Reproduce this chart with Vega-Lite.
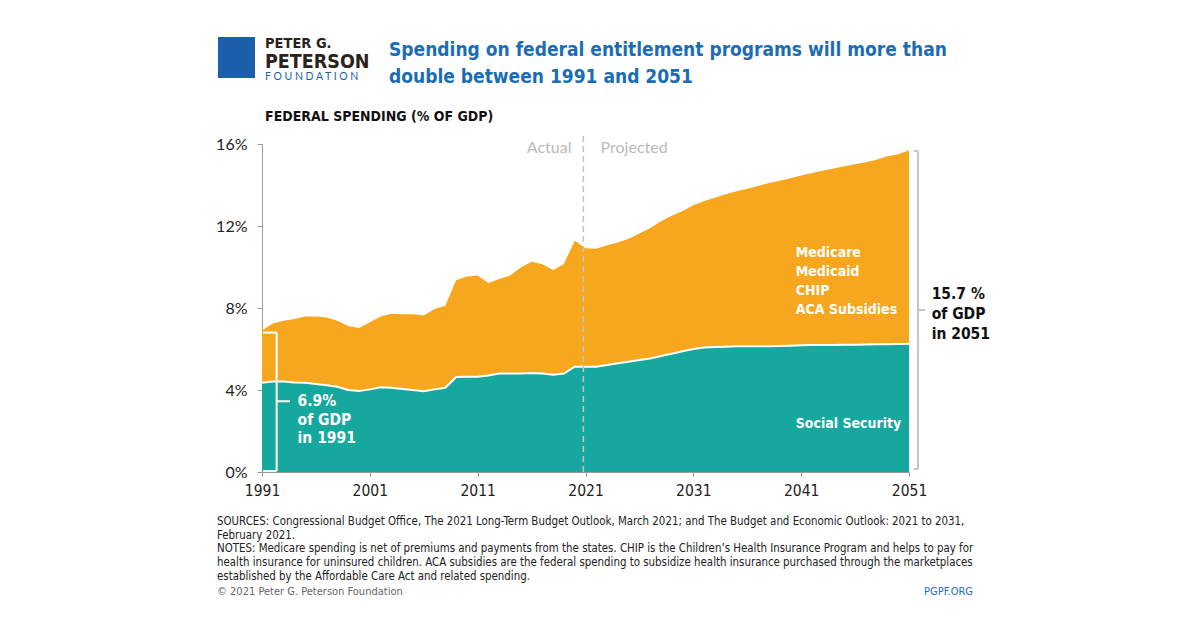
{
  "$schema": "https://vega.github.io/schema/vega-lite/v6.json",
  "width": 647,
  "height": 328,
  "autosize": "none",
  "padding": {"left": 262, "top": 144, "right": 291, "bottom": 157},
  "background": "white",
  "config": {
    "view": {"stroke": null},
    "axis": {"grid": false, "domainColor": "#999999", "tickColor": "#999999", "tickSize": 5, "labelColor": "#222222"},
    "text": {"font": "DejaVu Sans Condensed, Roboto, sans-serif"}
  },
  "datasets": {
    "spending": [
      {"year": 1991, "social_security": 4.35, "health_programs": 2.55},
      {"year": 1992, "social_security": 4.41, "health_programs": 2.84},
      {"year": 1993, "social_security": 4.41, "health_programs": 2.97},
      {"year": 1994, "social_security": 4.36, "health_programs": 3.10},
      {"year": 1995, "social_security": 4.35, "health_programs": 3.23},
      {"year": 1996, "social_security": 4.29, "health_programs": 3.29},
      {"year": 1997, "social_security": 4.23, "health_programs": 3.31},
      {"year": 1998, "social_security": 4.16, "health_programs": 3.22},
      {"year": 1999, "social_security": 4.00, "health_programs": 3.12},
      {"year": 2000, "social_security": 3.95, "health_programs": 3.07},
      {"year": 2001, "social_security": 4.03, "health_programs": 3.27},
      {"year": 2002, "social_security": 4.13, "health_programs": 3.45},
      {"year": 2003, "social_security": 4.11, "health_programs": 3.61},
      {"year": 2004, "social_security": 4.05, "health_programs": 3.65},
      {"year": 2005, "social_security": 4.00, "health_programs": 3.70},
      {"year": 2006, "social_security": 3.94, "health_programs": 3.70},
      {"year": 2007, "social_security": 4.03, "health_programs": 3.92},
      {"year": 2008, "social_security": 4.11, "health_programs": 4.00},
      {"year": 2009, "social_security": 4.63, "health_programs": 4.72},
      {"year": 2010, "social_security": 4.65, "health_programs": 4.89},
      {"year": 2011, "social_security": 4.65, "health_programs": 4.93},
      {"year": 2012, "social_security": 4.71, "health_programs": 4.51},
      {"year": 2013, "social_security": 4.80, "health_programs": 4.61},
      {"year": 2014, "social_security": 4.81, "health_programs": 4.78},
      {"year": 2015, "social_security": 4.80, "health_programs": 5.17},
      {"year": 2016, "social_security": 4.83, "health_programs": 5.43},
      {"year": 2017, "social_security": 4.80, "health_programs": 5.33},
      {"year": 2018, "social_security": 4.75, "health_programs": 5.10},
      {"year": 2019, "social_security": 4.80, "health_programs": 5.35},
      {"year": 2020, "social_security": 5.14, "health_programs": 6.14},
      {"year": 2021, "social_security": 5.14, "health_programs": 5.77},
      {"year": 2022, "social_security": 5.14, "health_programs": 5.75},
      {"year": 2023, "social_security": 5.22, "health_programs": 5.84},
      {"year": 2024, "social_security": 5.30, "health_programs": 5.89},
      {"year": 2025, "social_security": 5.38, "health_programs": 6.00},
      {"year": 2026, "social_security": 5.46, "health_programs": 6.17},
      {"year": 2027, "social_security": 5.54, "health_programs": 6.36},
      {"year": 2028, "social_security": 5.66, "health_programs": 6.57},
      {"year": 2029, "social_security": 5.77, "health_programs": 6.73},
      {"year": 2030, "social_security": 5.89, "health_programs": 6.84},
      {"year": 2031, "social_security": 6.00, "health_programs": 7.01},
      {"year": 2032, "social_security": 6.07, "health_programs": 7.15},
      {"year": 2033, "social_security": 6.10, "health_programs": 7.28},
      {"year": 2034, "social_security": 6.11, "health_programs": 7.44},
      {"year": 2035, "social_security": 6.13, "health_programs": 7.56},
      {"year": 2036, "social_security": 6.13, "health_programs": 7.69},
      {"year": 2037, "social_security": 6.13, "health_programs": 7.82},
      {"year": 2038, "social_security": 6.14, "health_programs": 7.96},
      {"year": 2039, "social_security": 6.15, "health_programs": 8.06},
      {"year": 2040, "social_security": 6.16, "health_programs": 8.17},
      {"year": 2041, "social_security": 6.18, "health_programs": 8.28},
      {"year": 2042, "social_security": 6.19, "health_programs": 8.40},
      {"year": 2043, "social_security": 6.20, "health_programs": 8.50},
      {"year": 2044, "social_security": 6.20, "health_programs": 8.60},
      {"year": 2045, "social_security": 6.21, "health_programs": 8.70},
      {"year": 2046, "social_security": 6.21, "health_programs": 8.80},
      {"year": 2047, "social_security": 6.22, "health_programs": 8.89},
      {"year": 2048, "social_security": 6.23, "health_programs": 9.00},
      {"year": 2049, "social_security": 6.23, "health_programs": 9.17},
      {"year": 2050, "social_security": 6.24, "health_programs": 9.26},
      {"year": 2051, "social_security": 6.25, "health_programs": 9.45}
    ]
  },
  "layer": [
    {
      "data": {"name": "spending"},
      "transform": [{"fold": ["social_security", "health_programs"], "as": ["program", "value"]}],
      "mark": {"type": "area", "opacity": 1},
      "encoding": {
        "x": {"field": "year", "type": "quantitative", "scale": {"domain": [1991, 2051], "nice": false, "zero": false},
              "axis": {"title": null, "values": [1991, 2001, 2011, 2021, 2031, 2041, 2051], "format": "d", "labelFlush": false, "labelFont": "DejaVu Sans Condensed, Roboto, sans-serif", "labelFontSize": 15.5, "labelPadding": 7, "tickSize": 4}},
        "y": {"field": "value", "type": "quantitative", "stack": "zero", "scale": {"domain": [0, 16], "nice": false},
              "axis": {"title": null, "values": [0, 4, 8, 12, 16], "labelExpr": "datum.value + '%'", "labelFont": "Lato", "labelFontSize": 16, "labelPadding": 10, "tickSize": 5}},
        "color": {"field": "program", "type": "nominal", "legend": null,
                  "scale": {"domain": ["social_security", "health_programs"], "range": ["#16a89e", "#f7a71e"]}},
        "order": {"field": "program", "sort": "descending"}
      }
    },
    {
      "data": {"name": "spending"},
      "mark": {"type": "line", "color": "white", "strokeWidth": 2},
      "encoding": {
        "x": {"field": "year", "type": "quantitative", "title": null},
        "y": {"field": "social_security", "type": "quantitative", "title": null}
      }
    },
    {
      "data": {"values": [{}]},
      "mark": {"type": "rule", "color": "#c4c4c4", "strokeWidth": 1.5, "strokeDash": [6, 4]},
      "encoding": {"x": {"datum": 2020.8}, "y": {"datum": 0}, "y2": {"datum": 16.5}}
    },
    {
      "data": {"values": [{}]},
      "mark": {"type": "text", "text": "Actual", "align": "right", "baseline": "alphabetic", "font": "Lato", "fontSize": 16, "color": "#bbbbbb"},
      "encoding": {"x": {"datum": 2019.7}, "y": {"datum": 15.55}}
    },
    {
      "data": {"values": [{}]},
      "mark": {"type": "text", "text": "Projected", "align": "left", "baseline": "alphabetic", "font": "Lato", "fontSize": 16, "color": "#bbbbbb"},
      "encoding": {"x": {"datum": 2022.4}, "y": {"datum": 15.55}}
    },
    {
      "data": {"values": [{}]},
      "mark": {"type": "rule", "color": "white", "strokeWidth": 2},
      "encoding": {"x": {"datum": 1992.36}, "y": {"datum": 0.05}, "y2": {"datum": 6.8}}
    },
    {
      "data": {"values": [{}]},
      "mark": {"type": "rule", "color": "white", "strokeWidth": 2},
      "encoding": {"x": {"datum": 1991.1}, "x2": {"datum": 1992.36}, "y": {"datum": 6.8}}
    },
    {
      "data": {"values": [{}]},
      "mark": {"type": "rule", "color": "white", "strokeWidth": 2},
      "encoding": {"x": {"datum": 1991.1}, "x2": {"datum": 1992.36}, "y": {"datum": 0.05}}
    },
    {
      "data": {"values": [{}]},
      "mark": {"type": "rule", "color": "white", "strokeWidth": 2},
      "encoding": {"x": {"datum": 1992.36}, "x2": {"datum": 1993.6}, "y": {"datum": 3.45}}
    },
    {
      "data": {"values": [{}]},
      "mark": {"type": "text", "text": ["6.9%", "of GDP", "in 1991"], "align": "left", "baseline": "alphabetic", "fontSize": 15.5, "fontWeight": "bold", "lineHeight": 18.5, "color": "white"},
      "encoding": {"x": {"datum": 1994.3}, "y": {"datum": 3.2}}
    },
    {
      "data": {"values": [{}]},
      "mark": {"type": "rule", "color": "#c4c4c4", "strokeWidth": 2},
      "encoding": {"x": {"datum": 2051.84}, "y": {"datum": 0.15}, "y2": {"datum": 15.66}}
    },
    {
      "data": {"values": [{}]},
      "mark": {"type": "rule", "color": "#c4c4c4", "strokeWidth": 2},
      "encoding": {"x": {"datum": 2051.45}, "x2": {"datum": 2051.84}, "y": {"datum": 15.66}}
    },
    {
      "data": {"values": [{}]},
      "mark": {"type": "rule", "color": "#c4c4c4", "strokeWidth": 2},
      "encoding": {"x": {"datum": 2051.45}, "x2": {"datum": 2051.84}, "y": {"datum": 0.15}}
    },
    {
      "data": {"values": [{}]},
      "mark": {"type": "rule", "color": "#c4c4c4", "strokeWidth": 2},
      "encoding": {"x": {"datum": 2051.84}, "x2": {"datum": 2052.5}, "y": {"datum": 7.9}}
    },
    {
      "data": {"values": [{}]},
      "mark": {"type": "text", "text": ["15.7 %", "of GDP", "in 2051"], "align": "left", "baseline": "alphabetic", "fontSize": 15.5, "fontWeight": "bold", "lineHeight": 20, "color": "#111111"},
      "encoding": {"x": {"datum": 2053.1}, "y": {"datum": 8.45}}
    },
    {
      "data": {"values": [{}]},
      "mark": {"type": "text", "text": ["Medicare", "Medicaid", "CHIP", "ACA Subsidies"], "align": "left", "baseline": "alphabetic", "fontSize": 14, "fontWeight": "bold", "lineHeight": 19, "color": "white"},
      "encoding": {"x": {"datum": 2040.5}, "y": {"datum": 10.5}}
    },
    {
      "data": {"values": [{}]},
      "mark": {"type": "text", "text": "Social Security", "align": "left", "baseline": "alphabetic", "fontSize": 14, "fontWeight": "bold", "color": "white"},
      "encoding": {"x": {"datum": 2040.5}, "y": {"datum": 2.15}}
    },
    {
      "data": {"values": [{}]},
      "mark": {"type": "text", "text": "FEDERAL SPENDING (% OF GDP)", "align": "left", "baseline": "alphabetic", "fontSize": 14, "fontWeight": "bold", "color": "#111111"},
      "encoding": {"x": {"datum": 1991.28}, "y": {"datum": 17.1}}
    },
    {
      "data": {"values": [{}]},
      "mark": {"type": "text", "text": ["Spending on federal entitlement programs will more than", "double between 1991 and 2051"], "align": "left", "baseline": "alphabetic", "fontSize": 19, "fontWeight": "bold", "lineHeight": 27, "color": "#1a6db4"},
      "encoding": {"x": {"datum": 2002.78}, "y": {"datum": 20.3}}
    },
    {
      "data": {"values": [{}]},
      "mark": {"type": "rect", "color": "#1b5faa"},
      "encoding": {"x": {"datum": 1986.92}, "x2": {"datum": 1990.35}, "y": {"datum": 21.22}, "y2": {"datum": 19.22}}
    },
    {
      "data": {"values": [{}]},
      "mark": {"type": "text", "text": "PETER G.", "align": "left", "baseline": "alphabetic", "fontSize": 14.5, "fontWeight": "bold", "color": "#2a231d"},
      "encoding": {"x": {"datum": 1991.28}, "y": {"datum": 20.7}}
    },
    {
      "data": {"values": [{}]},
      "mark": {"type": "text", "text": "PETERSON", "align": "left", "baseline": "alphabetic", "fontSize": 19.5, "fontWeight": "bold", "color": "#2a231d"},
      "encoding": {"x": {"datum": 1991.28}, "y": {"datum": 19.72}}
    },
    {
      "data": {"values": [{}]},
      "mark": {"type": "text", "text": "F O U N D A T I O N", "align": "left", "baseline": "alphabetic", "font": "Lato", "fontSize": 10.5, "color": "#1b5faa"},
      "encoding": {"x": {"datum": 1991.28}, "y": {"datum": 19.1}}
    },
    {
      "data": {"values": [{}]},
      "mark": {"type": "text", "text": ["SOURCES: Congressional Budget Office, The 2021 Long-Term Budget Outlook, March 2021; and The Budget and Economic Outlook: 2021 to 2031,", "February 2021.", "NOTES: Medicare spending is net of premiums and payments from the states. CHIP is the Children’s Health Insurance Program and helps to pay for", "health insurance for uninsured children. ACA subsidies are the federal spending to subsidize health insurance purchased through the marketplaces", "established by the Affordable Care Act and related spending."], "align": "left", "baseline": "alphabetic", "fontSize": 11.4, "lineHeight": 13.7, "color": "#222222"},
      "encoding": {"x": {"datum": 1986.83}, "y": {"datum": -2.58}}
    },
    {
      "data": {"values": [{}]},
      "mark": {"type": "text", "text": "© 2021 Peter G. Peterson Foundation", "align": "left", "baseline": "alphabetic", "fontSize": 11, "color": "#666666"},
      "encoding": {"x": {"datum": 1986.83}, "y": {"datum": -5.98}}
    },
    {
      "data": {"values": [{}]},
      "mark": {"type": "text", "text": "PGPF.ORG", "align": "right", "baseline": "alphabetic", "fontSize": 11, "color": "#1a6db4"},
      "encoding": {"x": {"datum": 2056.94}, "y": {"datum": -5.98}}
    }
  ]
}
